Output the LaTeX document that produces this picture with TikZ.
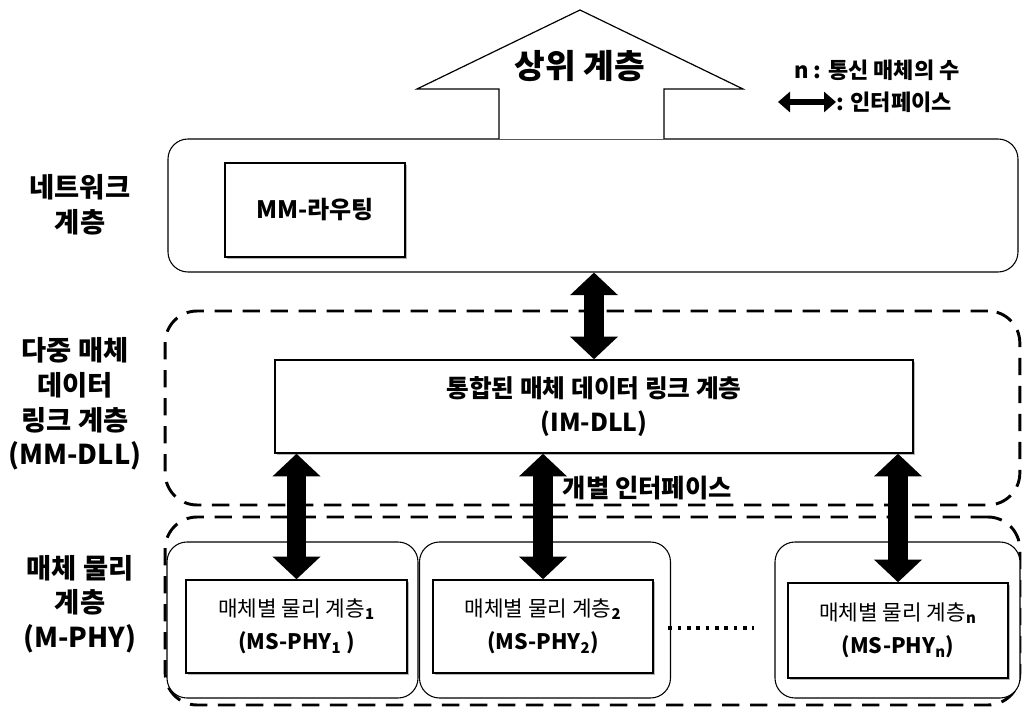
\documentclass[tikz,border=0pt]{standalone}
\usepackage{fontspec}
\setmainfont{Noto Sans CJK KR}
\usetikzlibrary{arrows.meta,shadows}
\tikzset{
  lbl/.style={font=\bfseries\fontsize{20.5}{26}\selectfont, align=center},
  solidbox/.style={draw, line width=0.8pt, rounded corners=15pt, fill=white},
  dashbox/.style={draw, line width=2.2pt, dash pattern=on 13pt off 8pt, rounded corners=24pt},
  layerbox/.style={draw, line width=1.1pt, fill=white, align=center,
     drop shadow={shadow xshift=1.6pt, shadow yshift=-1.6pt, fill=gray!70, opacity=0.8}},
  dbl/.style={line width=14.5pt, {Triangle[length=17pt,width=35pt]}-{Triangle[length=17pt,width=35pt]}},
  smalldbl/.style={line width=5pt, {Triangle[length=9pt,width=15pt]}-{Triangle[length=9pt,width=15pt]}},
  celltext/.style={font=\fontsize{16}{25}\selectfont},
}
\begin{document}
\begin{tikzpicture}[x=0.75pt,y=-0.75pt]
\useasboundingbox (0,0) rectangle (1022,709);
% dashed layer boxes
\node[dashbox, minimum width=641pt, minimum height=145.5pt] (mmdll) at (592.5,408) {};
\node[dashbox, minimum width=641pt, minimum height=141pt] (mphy) at (592.5,611) {};
% network box
\node[solidbox, minimum width=637.5pt, minimum height=99.75pt] (net) at (593,205.5) {};
% upper layer arrow
\draw[line width=0.9pt, fill=white] (499,139) -- (499,89) -- (417,89) -- (580,10) -- (743,89) -- (664,89) -- (664,139);
\node[font=\bfseries\fontsize{25}{30}\selectfont] (upper) at (580,66) {상위 계층};
% legend
\node[font=\bfseries\fontsize{16.5}{20}\selectfont] (legn) at (877,70) {n : 통신 매체의 수};
\node[font=\bfseries\fontsize{16.5}{20}\selectfont, anchor=west, inner sep=0pt] (legi) at (836,102) {: 인터페이스};
\coordinate (legl) at (778,102);
\draw[smalldbl] (legl) -- (legi.west);
% MM routing
\node[layerbox, minimum width=135pt, minimum height=70.5pt, font=\bfseries\fontsize{18}{22}\selectfont] (route) at (315,210) {MM-라우팅};
% IM-DLL
\node[layerbox, minimum width=478.5pt, minimum height=69.75pt, font=\bfseries\fontsize{18.5}{26}\selectfont] (dll) at (594,406.5) {통합된 매체 데이터 링크 계층\\(IM-DLL)};
% cells
\node[solidbox, minimum width=188.25pt, minimum height=117pt] (cell1) at (292.5,620) {};
\node[solidbox, minimum width=188.25pt, minimum height=117pt] (cell2) at (545,620) {};
\node[solidbox, minimum width=183.75pt, minimum height=117pt] (cell3) at (897.5,620) {};
\node[layerbox, minimum width=165.75pt, minimum height=69.75pt, celltext] (phy1) at (296.5,626.5) {매체별 물리 계층\textsubscript{\textbf{1}}\\\textbf{(MS-PHY\textsubscript{1} )}};
\node[layerbox, minimum width=165pt, minimum height=69.75pt, celltext] (phy2) at (543,626.5) {매체별 물리 계층\textsubscript{\textbf{2}}\\\textbf{(MS-PHY\textsubscript{2})}};
\node[layerbox, minimum width=165pt, minimum height=71.25pt, celltext] (phyn) at (898,630.5) {매체별 물리 계층\textsubscript{\textbf{n}}\\\textbf{(MS-PHY\textsubscript{n})}};
\draw[line width=3pt, dash pattern=on 2.6pt off 4.4pt, shorten <=11pt, shorten >=25pt] (phy2.east |- 0,628) -- (phyn.west |- 0,628);
% arrows
\draw[dbl] (dll.north |- net.south) -- (dll.north);
\draw[dbl] (phy1.north |- dll.south) -- (phy1.north);
\draw[dbl] (phy2.north |- dll.south) -- (phy2.north);
\draw[dbl] (phyn.north |- dll.south) -- (phyn.north);
\node[font=\bfseries\fontsize{19}{22}\selectfont, anchor=west] (indiv) at (558,488) {개별 인터페이스};
% left labels
\node[lbl] (lnet) at (80,205) {네트워크\\계층};
\node[lbl] (ldll) at (75,404) {다중 매체\\데이터\\링크 계층\\(MM-DLL)};
\node[lbl] (lphy) at (80,604) {매체 물리\\계층\\(M-PHY)};
\end{tikzpicture}
\end{document}
